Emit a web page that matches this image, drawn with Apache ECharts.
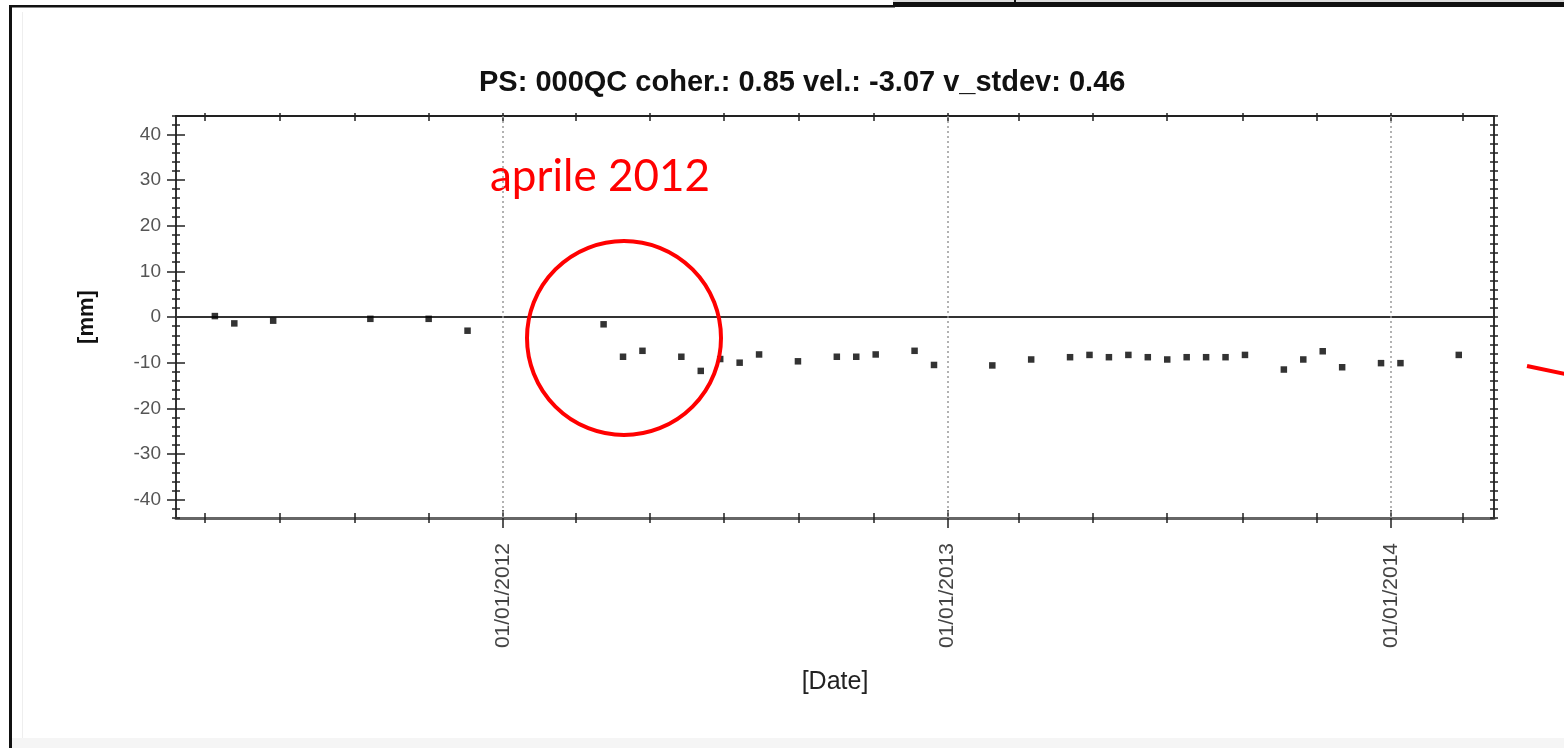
<!DOCTYPE html>
<html>
<head>
<meta charset="utf-8">
<title>PS 000QC</title>
<script src="https://cdn.jsdelivr.net/npm/echarts@6/dist/echarts.min.js"></script>
<style>
  html, body { margin: 0; padding: 0; background: #fff; }
  #chart { width: 1564px; height: 748px; }
</style>
</head>
<body>
<div id="chart"></div>
<script>
// Acquisition dates of the PS time series
const dates = [
  '2011-05-09', '2011-05-25', '2011-06-26', '2011-09-14', '2011-11-01', '2011-12-03',
  '2012-03-24', '2012-04-09', '2012-04-25', '2012-05-27', '2012-06-12', '2012-06-28',
  '2012-07-14', '2012-07-30', '2012-08-31', '2012-10-02', '2012-10-18', '2012-11-03',
  '2012-12-05', '2012-12-21', '2013-02-07', '2013-03-11', '2013-04-12', '2013-04-28',
  '2013-05-14', '2013-05-30', '2013-06-15', '2013-07-01', '2013-07-17', '2013-08-02',
  '2013-08-18', '2013-09-03', '2013-10-05', '2013-10-21', '2013-11-06', '2013-11-22',
  '2013-12-24', '2014-01-09', '2014-02-26'
];
// Displacement in mm
const displacement = [
  0.2, -1.4, -0.8, -0.4, -0.4, -3.0,
  -1.6, -8.7, -7.4, -8.7, -11.8, -9.2,
  -10.0, -8.2, -9.7, -8.7, -8.7, -8.2,
  -7.4, -10.5, -10.6, -9.3, -8.8, -8.3,
  -8.8, -8.3, -8.8, -9.3, -8.8, -8.8,
  -8.8, -8.3, -11.5, -9.3, -7.5, -11.0,
  -10.1, -10.1, -8.3
];
// Axis ticks and labels
const monthTicks = [
  '2011-05-01', '2011-07-01', '2011-09-01', '2011-11-01',
  '2012-01-01', '2012-03-01', '2012-05-01', '2012-07-01', '2012-09-01', '2012-11-01',
  '2013-01-01', '2013-03-01', '2013-05-01', '2013-07-01', '2013-09-01', '2013-11-01',
  '2014-01-01', '2014-03-01'
];
const yearTicks = ['2012-01-01', '2013-01-01', '2014-01-01'];
const yTickLabels = [-40, -30, -20, -10, 0, 10, 20, 30, 40];
const xRange = ['2011-04-07', '2014-03-27'];
const yRange = [-44, 44];

const titleText = 'PS: 000QC coher.: 0.85 vel.: -3.07 v_stdev: 0.46';

const ts = s => +echarts.number.parseDate(s);
const pad = n => (n < 10 ? '0' : '') + n;
const fmtDate = v => {
  const d = new Date(v);
  return pad(d.getDate()) + '/' + pad(d.getMonth() + 1) + '/' + d.getFullYear();
};

const monthTs = monthTicks.map(ts);
const yearTs = yearTicks.map(ts);
const points = dates.map((d, i) => [ts(d), displacement[i]]);
const xMin = ts(xRange[0]);
const xMax = ts(xRange[1]);

const font = '"Liberation Sans", Arial, sans-serif';

// tick-only x axes stacked on the same edge (dates as timestamps)
function xTickAxis(position, values, length, inside, showLine) {
  return {
    type: 'value', min: xMin, max: xMax, position: position,
    axisLine: { show: !!showLine, onZero: false, lineStyle: { color: '#222', width: 2 } },
    axisTick: { show: true, customValues: values, length: length, inside: inside,
                lineStyle: { color: '#222', width: 1.5 } },
    axisLabel: { show: false }, splitLine: { show: false }
  };
}
function yTickAxis(position, values, length, inside, showLine) {
  const ax = {
    type: 'value', min: yRange[0], max: yRange[1], position: position,
    axisLine: { show: !!showLine, onZero: false, lineStyle: { color: '#333', width: 2 } },
    axisTick: { show: true, length: length, inside: inside,
                lineStyle: { color: '#222', width: 1.5 } },
    axisLabel: { show: false }, splitLine: { show: false }
  };
  if (values) ax.axisTick.customValues = values; else ax.interval = 2;
  return ax;
}

const chart = echarts.init(document.getElementById('chart'), null, { renderer: 'canvas' });

const option = {
  animation: false,
  backgroundColor: '#fff',
  title: {
    text: titleText, left: 474, top: 63,
    textStyle: { fontFamily: font, fontWeight: 'bold', fontSize: 29, color: '#111' }
  },
  grid: { left: 176, right: 70, top: 116, bottom: 230, containLabel: false },
  xAxis: [
    {
      type: 'value', min: xMin, max: xMax, position: 'bottom',
      axisLine: { show: true, onZero: false, lineStyle: { color: '#666', width: 3 } },
      axisTick: { show: true, customValues: monthTs, length: 5, lineStyle: { color: '#222', width: 1.5 } },
      axisLabel: {
        customValues: yearTs, rotate: 90, margin: 25, formatter: fmtDate,
        fontFamily: font, fontSize: 21, color: '#444'
      },
      splitLine: { show: false },
      name: '[Date]', nameLocation: 'middle', nameGap: 152,
      nameTextStyle: { fontFamily: font, fontSize: 25, color: '#222' }
    },
    xTickAxis('bottom', monthTs, 5, true, false),
    xTickAxis('bottom', yearTs, 10, false, false),
    xTickAxis('bottom', yearTs, 8, true, false),
    xTickAxis('top', monthTs, 5, true, true),
    xTickAxis('top', monthTs, 3, false, false)
  ],
  yAxis: [
    {
      type: 'value', min: yRange[0], max: yRange[1], interval: 2, position: 'left',
      axisLine: { show: true, onZero: false, lineStyle: { color: '#333', width: 2 } },
      axisTick: { show: true, length: 4, lineStyle: { color: '#222', width: 1.5 } },
      axisLabel: {
        customValues: yTickLabels, margin: 15,
        fontFamily: font, fontSize: 19, color: '#555'
      },
      splitLine: { show: false },
      name: '[mm]', nameLocation: 'middle', nameGap: 78,
      nameTextStyle: { fontFamily: font, fontSize: 22, fontWeight: 'bold', color: '#111' }
    },
    yTickAxis('left', null, 4, true, false),
    yTickAxis('left', yTickLabels, 9, false, false),
    yTickAxis('left', yTickLabels, 9, true, false),
    yTickAxis('right', null, 4, true, true),
    yTickAxis('right', null, 4, false, false)
  ],
  series: [
    {
      type: 'scatter',
      name: '000QC',
      xAxisIndex: 0, yAxisIndex: 0,
      data: points,
      symbol: 'rect',
      symbolSize: 6.5,
      itemStyle: { color: '#000' },
      markLine: {
        silent: true, symbol: 'none', animation: false,
        label: { show: false },
        data: [
          { yAxis: 0, lineStyle: { color: '#333', width: 2, type: 'solid' } }
        ].concat(yearTs.map(t => ({
          xAxis: t, lineStyle: { color: '#999', width: 1.5, type: [2, 3] }
        })))
      },
      z: 5
    }
  ],
  graphic: [
    // page frame
    { type: 'rect', shape: { x: 9, y: 6, width: 3, height: 742 }, style: { fill: '#111' }, silent: true },
    { type: 'rect', shape: { x: 9, y: 5, width: 886, height: 2.5 }, style: { fill: '#111' }, silent: true },
    { type: 'rect', shape: { x: 893, y: 2, width: 671, height: 5 }, style: { fill: '#111' }, silent: true },
    { type: 'rect', shape: { x: 893, y: 0, width: 671, height: 2 }, style: { fill: '#ddd' }, silent: true },
    { type: 'rect', shape: { x: 1014, y: 0, width: 2, height: 4 }, style: { fill: '#111' }, silent: true },
    { type: 'rect', shape: { x: 22, y: 12, width: 1, height: 728 }, style: { fill: '#eee' }, silent: true },
    { type: 'rect', shape: { x: 12, y: 738, width: 1552, height: 10 }, style: { fill: '#f5f5f5' }, silent: true },
    // annotation
    {
      type: 'text', left: 490, top: 155, silent: true,
      style: { text: 'aprile 2012', fill: '#f00', font: '44px Lato, "Open Sans", sans-serif' }
    },
    {
      type: 'circle', shape: { cx: 624, cy: 338, r: 97 }, silent: true,
      style: { fill: 'none', stroke: '#f00', lineWidth: 4 }, z: 10
    },
    {
      type: 'line', shape: { x1: 1527, y1: 366, x2: 1570, y2: 375 }, silent: true,
      style: { stroke: '#f00', lineWidth: 4 }
    }
  ]
};

chart.setOption(option);
</script>
</body>
</html>
